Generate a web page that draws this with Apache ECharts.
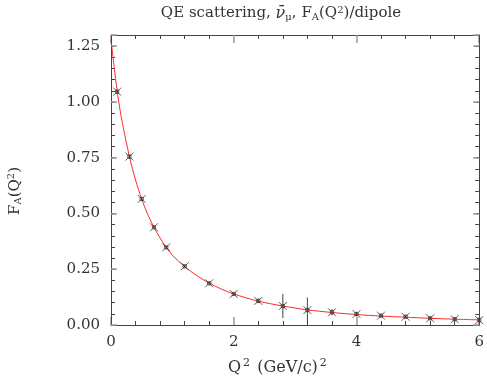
<!DOCTYPE html>
<html>
<head>
<meta charset="utf-8">
<script src="https://cdn.jsdelivr.net/npm/echarts@6/dist/echarts.min.js"></script>
<style>html,body{margin:0;padding:0;background:#fff}#c{width:487px;height:383px}</style>
</head>
<body>
<div id="c"></div>
<script>
// Measured points
const q2 = [0.1, 0.3, 0.5, 0.7, 0.9, 1.2, 1.6, 2.0, 2.4, 2.8, 3.2, 3.6, 4.0, 4.4, 4.8, 5.2, 5.6, 6.0];
const fa = [1.046, 0.755, 0.565, 0.438, 0.348, 0.263, 0.187, 0.139, 0.108, 0.085, 0.067, 0.057, 0.049, 0.042, 0.037, 0.030, 0.026, 0.022];
const faErr = [0.010, 0.008, 0.007, 0.006, 0.006, 0.006, 0.006, 0.007, 0.010, 0.054, 0.056, 0.014, 0.010, 0.008, 0.008, 0.008, 0.008, 0.008];
// Fitted curve
const curveX = [0, 0.05, 0.1, 0.15, 0.2, 0.3, 0.4, 0.5, 0.6, 0.7, 0.8, 0.9, 1.0, 1.2, 1.4, 1.6, 1.8, 2.0, 2.4, 2.8, 3.2, 3.6, 4.0, 4.4, 4.8, 5.2, 5.6, 6.0];
const curveY = [1.28, 1.16, 1.05, 0.96, 0.885, 0.755, 0.65, 0.565, 0.495, 0.438, 0.39, 0.348, 0.313, 0.262, 0.221, 0.188, 0.161, 0.139, 0.107, 0.085, 0.068, 0.056, 0.047, 0.040, 0.035, 0.030, 0.026, 0.023];
const xTicks = [0, 2, 4, 6];
const yTicks = [0, 0.25, 0.5, 0.75, 1.0, 1.25];

const FONT = 'DejaVu Serif';
const TXT = '#333';
const AX = '#444';
const MAJ = '#9a9a9a';

const chart = echarts.init(document.getElementById('c'), null, {renderer: 'canvas'});

const xCommon = {
  type: 'value', min: 0, max: 6, interval: 2,
  axisLine: {show: true, onZero: false, lineStyle: {color: AX, width: 1}},
  axisTick: {show: true, inside: true, length: 8, lineStyle: {color: MAJ, width: 1.5}},
  minorTick: {show: true, splitNumber: 5, length: 4, lineStyle: {color: AX, width: 1}},
  splitLine: {show: false}
};
const yMajor = {
  type: 'value', min: 0, max: 1.3, interval: 0.25, z: 5,
  axisLine: {show: true, onZero: false, lineStyle: {color: AX, width: 1}},
  axisTick: {show: true, inside: true, length: 6, lineStyle: {color: MAJ, width: 1.5}},
  splitLine: {show: false}
};
const yMinor = {
  type: 'value', min: 0, max: 1.3, interval: 0.05, z: 2,
  axisLine: {show: false, onZero: false},
  axisTick: {show: true, inside: true, length: 4, lineStyle: {color: AX, width: 1}},
  axisLabel: {show: false},
  splitLine: {show: false}
};

const errData = q2.map((x, i) => [x, fa[i], faErr[i]]);

const option = {
  animation: false,
  backgroundColor: '#fff',
  title: {
    text: 'QE scattering, {g|ν̄}{sub|μ}, F{sub|A}(Q{sup|2})/dipole',
    left: 276, top: 0, textAlign: 'center',
    textStyle: {
      fontFamily: FONT, fontSize: 15, fontWeight: 'normal', color: TXT,
      rich: {
        g: {fontFamily: FONT, fontSize: 16, color: TXT, fontStyle: 'italic'},
        sub: {fontFamily: FONT, fontSize: 10, color: TXT, verticalAlign: 'bottom', padding: [7, 0, 0, 0]},
        sup: {fontFamily: FONT, fontSize: 10, color: TXT, verticalAlign: 'top', padding: [0, 0, 7, 0]}
      }
    }
  },
  grid: {left: 111, right: 5, top: 35, bottom: 58, containLabel: false},
  xAxis: [
    Object.assign({}, xCommon, {
      position: 'bottom',
      axisLabel: {show: true, margin: 10, fontFamily: FONT, fontSize: 15, color: TXT,
        formatter: v => xTicks.indexOf(v) >= 0 ? String(v) : ''}
    }),
    Object.assign({}, xCommon, {position: 'top', axisLabel: {show: false}})
  ],
  yAxis: [
    Object.assign({}, yMajor, {
      position: 'left',
      axisLabel: {show: true, margin: 11, fontFamily: FONT, fontSize: 15, color: TXT,
        formatter: v => yTicks.some(t => Math.abs(t - v) < 1e-6) ? v.toFixed(2) : ''}
    }),
    Object.assign({}, yMajor, {position: 'right', axisLabel: {show: false}}),
    Object.assign({}, yMinor, {position: 'left'}),
    Object.assign({}, yMinor, {position: 'right'})
  ],
  graphic: [
    {type: 'text', left: 228, top: 358, style: {
      text: 'Q{s|2} (GeV/c){s|2}', fontFamily: FONT, fontSize: 16, fill: TXT,
      rich: {s: {fontFamily: FONT, fontSize: 11, fill: TXT, verticalAlign: 'top', padding: [0, 2, 8, 2]}}
    }},
    {type: 'text', x: 15, y: 191, rotation: Math.PI / 2, style: {
      text: 'F{s|A}(Q{p|2})', fontFamily: FONT, fontSize: 15, fill: TXT, align: 'center', verticalAlign: 'middle',
      rich: {
        s: {fontFamily: FONT, fontSize: 10, fill: TXT, verticalAlign: 'bottom', padding: [7, 0, 0, 0]},
        p: {fontFamily: FONT, fontSize: 10, fill: TXT, verticalAlign: 'top', padding: [0, 0, 7, 0]}
      }
    }}
  ],
  series: [
    {
      type: 'line', name: 'fit', xAxisIndex: 0, yAxisIndex: 0,
      data: curveX.map((x, i) => [x, curveY[i]]),
      smooth: 0.3, showSymbol: false, symbol: 'none',
      lineStyle: {color: '#ff2a2a', width: 1}, z: 3
    },
    {
      type: 'custom', name: 'err', xAxisIndex: 0, yAxisIndex: 0,
      data: errData,
      renderItem: function (params, api) {
        const x = api.value(0), y = api.value(1), e = api.value(2);
        const p1 = api.coord([x, y - e]);
        const p2 = api.coord([x, y + e]);
        return {type: 'line', shape: {x1: p1[0], y1: p1[1], x2: p2[0], y2: p2[1]},
          style: {stroke: '#444', lineWidth: 1}};
      },
      z: 4
    },
    {
      type: 'scatter', name: 'data', xAxisIndex: 0, yAxisIndex: 0,
      data: q2.map((x, i) => [x, fa[i]]),
      symbol: 'path://M0,0L10,10M10,0L0,10M3,3L7,3L7,7L3,7Z',
      symbolSize: 8,
      itemStyle: {color: 'rgba(0,0,0,0)', borderColor: '#3a3a3a', borderWidth: 1},
      z: 5
    }
  ]
};
chart.setOption(option);
</script>
</body>
</html>
